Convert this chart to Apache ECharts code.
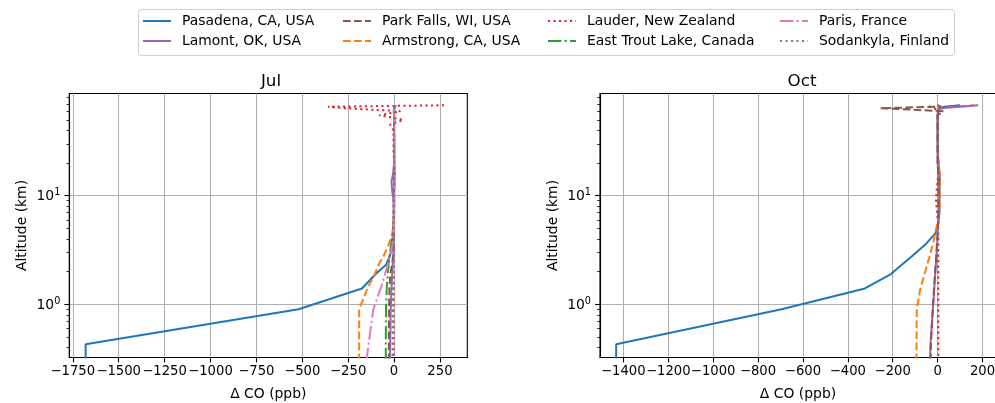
<!DOCTYPE html>
<html>
<head>
<meta charset="utf-8">
<script src="https://cdn.jsdelivr.net/npm/echarts@6/dist/echarts.min.js"></script>
<style>
  html, body { margin: 0; padding: 0; background: #fff; }
  #chart { width: 995px; height: 403px; }
</style>
</head>
<body>
<div id="chart"></div>
<script>
// altitude levels (km) shared by every profile
var altLevels = [0.3, 0.43, 0.9, 1.4, 1.9, 2.3, 2.8, 3.6, 4.5, 5.5, 7, 9, 11, 13.5, 16, 20, 26, 33, 40, 45, 50, 55, 60, 64, 66, 68];

// Jul, delta CO (ppb) at each level
var julPasadena   = [-1680, -1680, -520, -175, -100, -45, -22, -10, -5, -3, -2, -1, 0, 2, 2, 1, 0, 0, 0, 0, 2, 0, -2, 0, 5, 8];
var julArmstrong  = [-190, -190, -190, -145, -105, -85, -56, -28, -10, -3, -1, 0, 1, 3, 2, 1, 0, 0, 0, 0, 0, 0, 0, 2, 5, 8];
var julEastTrout  = [-45, -45, -44, -40, -34, -30, -25, -16, -5, -1, 0, 0, 0, 0, 0, 0, 0, 0, 0, 0, 0, 0, 0, 0, 3, 5];
var julLauder     = [-3, -3, -3, -3, -3, -3, -3, -3, -3, -3, -3, -3, -2, 2, 3, 0, -3, -3, -3, -22, 50, -80, 35, -275, -360, 280];
var julLamont     = [-22, -21, -18, -14, -10, -7, -4, -2, -1, 0, 0, -3, -10, -14, -5, 0, 2, 1, 0, 0, 0, 0, 0, 0, 8, 12];
var julParkFalls  = [-28, -28, -27, -25, -20, -12, -5, -2, 0, 0, 0, 0, 0, 0, 0, 0, 0, 0, 0, 0, 0, 0, 0, 0, 2, 4];
var julParis      = [-150, -139, -113, -73, -49, -35, -22, -8, -2, 0, 1, 2, 3, 3, 4, 3, 2, 2, 1, 0, 0, 0, 0, 0, 4, 8];
var julSodankyla  = [-8, -8, -7, -6, -5, -4, -3, -2, 0, 0, 0, 0, 0, 0, 0, 0, 0, 0, 0, 0, 0, 0, 0, 0, 2, 4];

// Oct
var octPasadena   = [-1432, -1432, -695, -324, -208, -161, -112, -52, -10, 3, 8, 8, 8, 10, 8, 3, 0, 0, 0, 0, 0, 0, 3, 5, 30, 100];
var octArmstrong  = [-94, -94, -93, -77, -58, -47, -35, -21, -11, -2, 8, 10, 10, 10, 10, 5, 2, 0, 0, 0, 0, 0, 0, 20, 80, 160];
var octLauder     = [3, 3, 3, 3, 3, 3, 3, 3, 3, 2, -3, -7, -5, 0, 2, 2, 2, 2, 2, 2, 2, 2, 2, -15, -10, -50];
var octLamont     = [-34, -32, -21, -15, -11, -8, -5, -2, 0, 2, 5, 5, 5, 5, 3, 0, 0, 0, 0, 0, 0, 0, 0, 10, 100, 181];
var octParkFalls  = [-31, -30, -22, -16, -12, -9, -6, -3, 0, 2, 4, 4, 4, 4, 3, 0, 0, 0, 0, 0, 0, 0, 25, -255, 15, 0];

// tick labels
var julXTicks = [-1750, -1500, -1250, -1000, -750, -500, -250, 0, 250];
var octXTicks = [-1400, -1200, -1000, -800, -600, -400, -200, 0, 200];
var altMajorTicks = [1, 10];
var altMinorTicks = [0.4, 0.5, 0.6, 0.7, 0.8, 0.9, 2, 3, 4, 5, 6, 7, 8, 9, 20, 30, 40, 50, 60, 70, 80];

var FONT = 'DejaVu Sans';
var FS = 13.9;
var styles = {
  'Pasadena, CA, USA':       { color: '#1f77b4', type: 'solid' },
  'Armstrong, CA, USA':      { color: '#ff7f0e', type: [7.7, 3.3] },
  'East Trout Lake, Canada': { color: '#2ca02c', type: [13.3, 3.3, 2.1, 3.3] },
  'Lauder, New Zealand':     { color: '#d62728', type: [2.1, 3.4] },
  'Lamont, OK, USA':         { color: '#9467bd', type: 'solid' },
  'Park Falls, WI, USA':     { color: '#8c564b', type: [7.7, 3.3] },
  'Paris, France':           { color: '#e377c2', type: [13.3, 3.3, 2.1, 3.3] },
  'Sodankyla, Finland':      { color: '#7f7f7f', type: [2.1, 3.4] }
};

function profile(name, xs, panel) {
  var s = styles[name];
  return {
    type: 'line',
    name: name,
    xAxisIndex: panel,
    yAxisIndex: panel * 2,
    data: xs.map(function (x, i) { return [x, altLevels[i]]; }),
    symbol: 'none',
    silent: true,
    lineStyle: { color: s.color, width: 2, type: s.type },
    itemStyle: { color: s.color }
  };
}

function minusFmt(v) { return v < 0 ? '\u2212' + (-v) : '' + v; }

function xAxisFor(panel, min, max, ticks) {
  return {
    type: 'value', gridIndex: panel, min: min, max: max,
    name: '\u0394 CO (ppb)', nameLocation: 'middle', nameGap: 30,
    nameTextStyle: { fontFamily: FONT, fontSize: FS, color: '#000' },
    axisLine: { show: true, onZero: false, lineStyle: { color: '#000', width: 1.1 } },
    axisTick: { show: true, length: 4.9, customValues: ticks, lineStyle: { color: '#000', width: 1.1 } },
    axisLabel: {
      customValues: ticks, formatter: minusFmt, margin: 8, hideOverlap: false,
      showMinLabel: true, showMaxLabel: true,
      fontFamily: FONT, fontSize: 13.2, color: '#000'
    },
    splitLine: { show: true, lineStyle: { color: '#b0b0b0', width: 1.1 } }
  };
}

function yAxesFor(panel) {
  return [{
    type: 'log', logBase: 10, gridIndex: panel, min: 0.324, max: 87.3, position: 'left',
    name: 'Altitude (km)', nameLocation: 'middle', nameGap: 40, nameRotate: 90,
    nameTextStyle: { fontFamily: FONT, fontSize: FS, color: '#000' },
    axisLine: { show: true, onZero: false, lineStyle: { color: '#000', width: 1.1 } },
    axisTick: { show: true, length: 4.9, customValues: altMajorTicks, lineStyle: { color: '#000', width: 1.1 } },
    axisLabel: {
      customValues: altMajorTicks, margin: 9, fontFamily: FONT, color: '#000',
      formatter: function (v) { return '{b|10}{s|' + Math.round(Math.log10(v)) + '}'; },
      rich: {
        b: { fontFamily: FONT, fontSize: FS, color: '#000', verticalAlign: 'bottom' },
        s: { fontFamily: FONT, fontSize: 9.7, color: '#000', verticalAlign: 'bottom', padding: [0, 0, 6, 0] }
      }
    },
    splitLine: { show: true, lineStyle: { color: '#b0b0b0', width: 1.1 } }
  }, {
    type: 'log', logBase: 10, gridIndex: panel, min: 0.324, max: 87.3, position: 'left', offset: 0,
    axisLine: { show: false, onZero: false },
    axisTick: { show: true, length: 2.8, customValues: altMinorTicks, lineStyle: { color: '#000', width: 0.8 } },
    axisLabel: { show: false },
    splitLine: { show: false }
  }];
}

function legendCol(left, names) {
  return {
    orient: 'vertical', left: left, top: 14, padding: 0, itemWidth: 28, itemHeight: 14, itemGap: 6,
    data: names, selectedMode: false,
    itemStyle: { opacity: 0 },
    lineStyle: { width: 2 },
    textStyle: { fontFamily: FONT, fontSize: FS, color: '#000', padding: [0, 0, 0, 6] }
  };
}

var chart = echarts.init(document.getElementById('chart'), null, { renderer: 'canvas' });
chart.setOption({
  animation: false,
  backgroundColor: '#fff',
  title: [
    { text: 'Jul', left: 266, top: 68, textAlign: 'center', textStyle: { fontFamily: FONT, fontSize: 16.7, fontWeight: 'normal', color: '#000' } },
    { text: 'Oct', left: 797, top: 68, textAlign: 'center', textStyle: { fontFamily: FONT, fontSize: 16.7, fontWeight: 'normal', color: '#000' } }
  ],
  graphic: [{
    type: 'rect', shape: { x: 138.5, y: 9.5, width: 816, height: 46, r: 3 },
    style: { fill: '#fff', stroke: '#d0d0d0', lineWidth: 1 }, z: -1
  }],
  legend: [
    legendCol(142, ['Pasadena, CA, USA', 'Lamont, OK, USA']),
    legendCol(342, ['Park Falls, WI, USA', 'Armstrong, CA, USA']),
    legendCol(547, ['Lauder, New Zealand', 'East Trout Lake, Canada']),
    legendCol(779, ['Paris, France', 'Sodankyla, Finland'])
  ],
  grid: [
    { left: 69.3, top: 93.5, width: 398, height: 264, outerBoundsMode: 'none', containLabel: false,
      show: true, borderColor: '#000', borderWidth: 1.1 },
    { left: 600, top: 93.5, width: 396, height: 264, outerBoundsMode: 'none', containLabel: false,
      show: true, borderColor: '#000', borderWidth: 1.1 }
  ],
  xAxis: [
    xAxisFor(0, -1769, 399, julXTicks),
    xAxisFor(1, -1504, 260, octXTicks)
  ],
  yAxis: yAxesFor(0).concat(yAxesFor(1)),
  series: [
    profile('Pasadena, CA, USA', julPasadena, 0),
    profile('Armstrong, CA, USA', julArmstrong, 0),
    profile('East Trout Lake, Canada', julEastTrout, 0),
    profile('Lauder, New Zealand', julLauder, 0),
    profile('Lamont, OK, USA', julLamont, 0),
    profile('Park Falls, WI, USA', julParkFalls, 0),
    profile('Paris, France', julParis, 0),
    profile('Sodankyla, Finland', julSodankyla, 0),
    profile('Pasadena, CA, USA', octPasadena, 1),
    profile('Armstrong, CA, USA', octArmstrong, 1),
    profile('Lauder, New Zealand', octLauder, 1),
    profile('Lamont, OK, USA', octLamont, 1),
    profile('Park Falls, WI, USA', octParkFalls, 1)
  ]
});
</script>
</body>
</html>
